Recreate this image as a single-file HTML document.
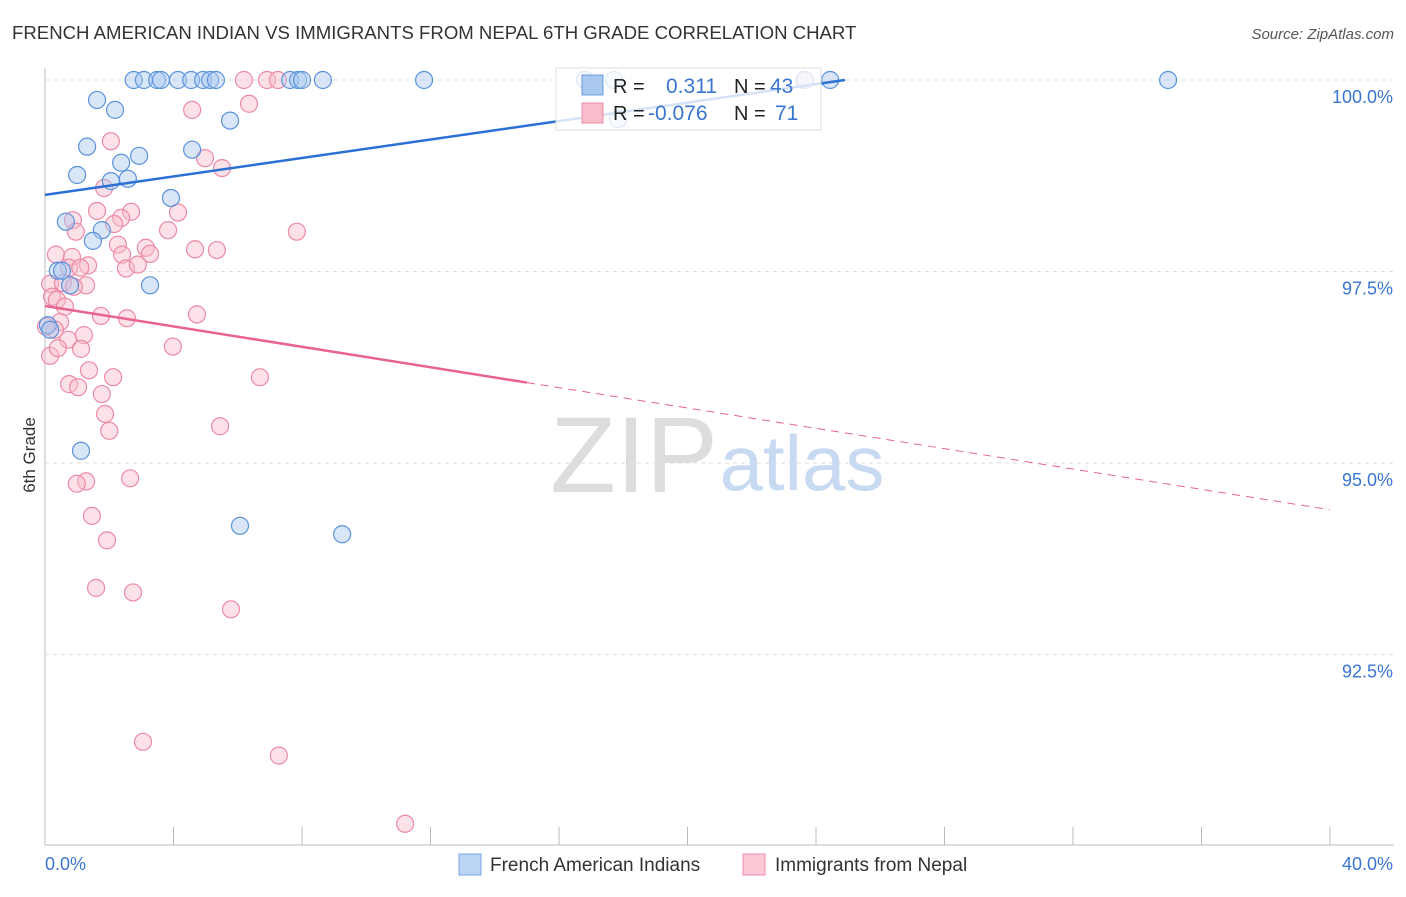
<!DOCTYPE html>
<html><head><meta charset="utf-8"><style>
body{margin:0;background:#fff;font-family:"Liberation Sans",sans-serif;}
svg text{font-family:"Liberation Sans",sans-serif;}
</style></head><body>
<svg id="c" width="1406" height="892">
<text x="12" y="39" font-size="18.6" fill="#333">FRENCH AMERICAN INDIAN VS IMMIGRANTS FROM NEPAL 6TH GRADE CORRELATION CHART</text>
<text x="1394" y="39" font-size="15" fill="#555" text-anchor="end" font-style="italic">Source: ZipAtlas.com</text>
<text x="35" y="455" font-size="17" fill="#333" transform="rotate(-90 35 455)" text-anchor="middle">6th Grade</text>
<g id="grid"></g>
<text x="634" y="492" font-size="108" fill="#ddd" font-family="Liberation Serif" text-anchor="middle">ZIP</text>
<text x="802" y="490" font-size="78" fill="#c8daf2" text-anchor="middle">atlas</text>
<g id="pts"></g>
<g id="lines"></g>
<g>
<rect x="556" y="68" width="265" height="62" fill="#fff" fill-opacity="0.8" stroke="#ddd"/>
<rect x="582" y="75" width="21" height="20" fill="#a9c8f0" stroke="#6a9de0"/>
<rect x="582" y="103" width="21" height="20" fill="#f8bccb" stroke="#ee8aa6"/>
<text x="613" y="93" font-size="20" fill="#222">R = </text><text x="666" y="93" font-size="21" fill="#3a76d0">0.311</text>
<text x="734" y="93" font-size="20" fill="#222">N = </text><text x="770" y="93" font-size="21" fill="#3a76d0">43</text>
<text x="613" y="120" font-size="20" fill="#222">R = </text><text x="648" y="120" font-size="21" fill="#3a76d0">-0.076</text>
<text x="734" y="120" font-size="20" fill="#222">N = </text><text x="775" y="120" font-size="21" fill="#3a76d0">71</text>
</g>
<g>
<rect x="459" y="854" width="22" height="21" fill="#bcd4f4" stroke="#7aa6e2"/>
<text x="490" y="871" font-size="19" fill="#333">French American Indians</text>
<rect x="743" y="854" width="22" height="21" fill="#fbc9d6" stroke="#ee8aa6"/>
<text x="775" y="871" font-size="19" fill="#333">Immigrants from Nepal</text>
</g>
</svg>
<script>
const xTicks=[0,4,8,12,16,20,24,28,32,36,40];
const yTicks=[92.5,95,97.5,100];
const blueX=[2.76,3.08,3.49,3.61,4.14,4.55,4.92,5.14,5.32,7.63,7.88,8.0,8.65,11.80,17.71,23.66,24.44,34.96,1.62,2.18,5.76,1.31,4.58,2.93,2.37,1.00,2.05,2.58,3.92,0.65,1.77,1.49,0.40,0.53,0.78,3.27,1.12,6.07,9.25,17.84,16.81,0.09,0.16];
const blueY=[100,100,100,100,100,100,100,100,100,100,100,100,100,100,100,100,100,100,99.74,99.61,99.47,99.13,99.09,99.01,98.92,98.76,98.68,98.71,98.46,98.15,98.04,97.90,97.51,97.51,97.32,97.32,95.16,94.18,94.07,99.49,100,96.80,96.74];
const pinkX=[6.19,6.91,7.25,23.63,4.58,6.35,2.05,4.98,5.51,1.84,1.62,2.68,2.37,4.14,0.87,0.96,2.15,3.83,7.84,2.27,3.14,3.27,2.40,4.67,5.35,0.34,0.84,1.34,2.52,2.89,0.75,0.16,0.56,1.28,0.22,0.37,0.62,0.47,1.21,4.73,1.74,2.55,0.72,1.12,3.98,0.16,1.37,2.12,6.69,0.75,1.03,1.77,1.87,2.00,5.45,2.65,1.28,0.99,1.46,1.93,1.59,2.74,5.79,3.05,7.28,11.21,0.31,0.03,0.4,0.9,1.1];
const pinkY=[100,100,100,100,99.61,99.69,99.20,98.98,98.85,98.59,98.29,98.28,98.20,98.27,98.17,98.02,98.12,98.04,98.02,97.85,97.81,97.73,97.72,97.79,97.78,97.72,97.69,97.58,97.54,97.59,97.55,97.34,97.35,97.32,97.17,97.13,97.04,96.84,96.67,96.94,96.92,96.89,96.61,96.49,96.52,96.40,96.21,96.12,96.12,96.03,95.99,95.90,95.64,95.42,95.48,94.80,94.76,94.73,94.31,93.99,93.37,93.31,93.09,91.36,91.18,90.29,96.74,96.78,96.5,97.3,97.55];
const blueLine=[[0,98.50],[24.9,100.0]];
const pinkLine=[[0,97.05],[15,96.05],[40,94.39]];
const NS='http://www.w3.org/2000/svg';
const X=v=>45+v/40*1285, Y=v=>80+(100-v)*76.6;
function mk(t,a,p){const e=document.createElementNS(NS,t);for(const k in a)e.setAttribute(k,a[k]);p.appendChild(e);return e;}
const g=document.getElementById('grid');
let ax=mk('line',{x1:45,y1:68,x2:45,y2:845,stroke:'#bbb'},g);


let bx=mk('line',{x1:45,y1:845,x2:1394,y2:845,stroke:'#bbb'},g);


yTicks.forEach(v=>{
 const l=mk('line',{x1:45,x2:1394,y1:Y(v),y2:Y(v),stroke:'#ddd','stroke-dasharray':'4,4'},g);
 
 
 const t=mk('text',{x:1393,y:Y(v)+23,'font-size':18,fill:'#3a76d0','text-anchor':'end'},g);
 t.textContent=v.toFixed(1)+'%';
 
 
});
xTicks.forEach(v=>{
 const l=mk('line',{x1:X(v),x2:X(v),y1:827,y2:845,stroke:'#bbb'},g);
 
 
});
[[0,'0.0%','start',45],[40,'40.0%','end',1393]].forEach(([v,s,a,x])=>{
 const t=mk('text',{x:x,y:870,'font-size':18,fill:'#3a76d0','text-anchor':a},g);t.textContent=s;
 
 
});
const p=document.getElementById('pts');
pinkX.forEach((v,i)=>{const c=mk('circle',{cx:X(v),cy:Y(pinkY[i]),r:8.5,fill:'#f8bccb','fill-opacity':0.45,stroke:'#ec8aa6','stroke-width':1.2},p);
 
 });
blueX.forEach((v,i)=>{const c=mk('circle',{cx:X(v),cy:Y(blueY[i]),r:8.5,fill:'#a9c8f0','fill-opacity':0.45,stroke:'#5b92dc','stroke-width':1.2},p);
 
 });
const L=document.getElementById('lines');
let bl=mk('line',{x1:X(blueLine[0][0]),y1:Y(blueLine[0][1]),x2:X(blueLine[1][0]),y2:Y(blueLine[1][1]),stroke:'#2e6fd4','stroke-width':2.5},L);


let pl=mk('line',{x1:X(pinkLine[0][0]),y1:Y(pinkLine[0][1]),x2:X(pinkLine[1][0]),y2:Y(pinkLine[1][1]),stroke:'#e8648e','stroke-width':2.5},L);


let pd=mk('line',{x1:X(pinkLine[1][0]),y1:Y(pinkLine[1][1]),x2:X(pinkLine[2][0]),y2:Y(pinkLine[2][1]),stroke:'#e8648e','stroke-width':1,'stroke-dasharray':'8,6'},L);


</script>
</body></html>
